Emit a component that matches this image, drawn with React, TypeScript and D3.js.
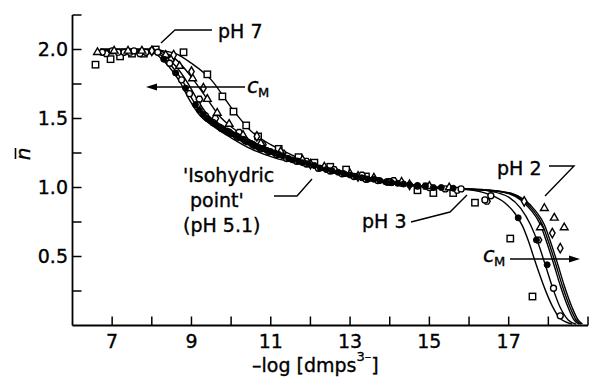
import React from "react";
import * as d3 from "d3";

// ---------- data ----------
const xTickValues = [7, 8, 9, 10, 11, 12, 13, 14, 15, 16, 17, 18, 19];
const xTickLabels = [7, 9, 11, 13, 15, 17];
const yTickValues = [0.25, 0.5, 0.75, 1.0, 1.25, 1.5, 1.75, 2.0, 2.25];
const yTickLabels = ["0.5", "1.0", "1.5", "2.0"];

const curve1: [number, number][] = [[6.7,2.0],[7.5,2.0],[8.0,2.0],[8.3,1.99],[8.6,1.97],[9.0,1.9],[9.5,1.78],[10.0,1.58],[10.5,1.41],[11.0,1.31],[11.5,1.24],[12.0,1.175],[12.5,1.125],[13.0,1.085],[13.5,1.055],[14.0,1.035],[14.5,1.02],[15.0,1.005],[15.5,0.995],[16.0,0.985],[16.5,0.95],[16.9,0.89],[17.15,0.815],[17.35,0.72],[17.5,0.61],[17.66,0.47],[17.92,0.26],[18.1,0.14],[18.3,0.05],[18.6,0.01]];
const curve2: [number, number][] = [[6.7,2.0],[8.0,2.0],[8.3,1.98],[8.6,1.93],[9.0,1.8],[9.4,1.64],[9.7,1.52],[10.0,1.44],[10.5,1.34],[11.0,1.27],[11.5,1.21],[12.0,1.165],[12.5,1.12],[13.0,1.085],[13.5,1.055],[14.0,1.035],[14.5,1.02],[15.0,1.005],[15.5,0.995],[16.0,0.99],[16.5,0.975],[17.0,0.93],[17.3,0.85],[17.55,0.73],[17.75,0.59],[17.9,0.46],[18.1,0.28],[18.3,0.13],[18.5,0.04],[18.7,0.01]];
const curve3: [number, number][] = [[6.7,2.0],[8.0,2.0],[8.3,1.96],[8.6,1.88],[8.9,1.76],[9.1,1.66],[9.4,1.53],[9.7,1.46],[10.2,1.38],[10.7,1.3],[11.2,1.235],[11.6,1.195],[12.0,1.16],[12.5,1.12],[13.0,1.085],[13.5,1.055],[14.0,1.035],[14.5,1.02],[15.0,1.005],[15.5,0.995],[16.0,0.99],[16.5,0.98],[17.0,0.955],[17.3,0.91],[17.55,0.84],[17.8,0.73],[17.95,0.61],[18.12,0.46],[18.3,0.29],[18.5,0.13],[18.65,0.04],[18.78,0.01]];
const curve4: [number, number][] = [[6.7,2.0],[7.95,2.0],[8.22,1.96],[8.5,1.88],[8.8,1.76],[9.0,1.65],[9.3,1.52],[9.6,1.45],[10.1,1.37],[10.6,1.29],[11.2,1.225],[11.6,1.19],[12.0,1.155],[12.5,1.115],[13.0,1.08],[13.5,1.05],[14.0,1.03],[14.5,1.015],[15.0,1.0],[15.5,0.99],[16.0,0.985],[16.5,0.98],[17.05,0.955],[17.35,0.91],[17.6,0.84],[17.85,0.73],[18.0,0.61],[18.17,0.46],[18.35,0.29],[18.55,0.13],[18.7,0.04],[18.82,0.01]];
const curve5: [number, number][] = [[6.7,2.0],[7.9,2.0],[8.14,1.96],[8.42,1.88],[8.72,1.76],[8.92,1.65],[9.22,1.52],[9.52,1.45],[10.0,1.36],[10.5,1.28],[11.1,1.215],[11.6,1.18],[12.0,1.15],[12.5,1.11],[13.0,1.08],[13.5,1.05],[14.0,1.03],[14.5,1.015],[15.0,1.0],[15.5,0.99],[16.0,0.985],[16.5,0.98],[17.1,0.955],[17.4,0.91],[17.65,0.84],[17.9,0.73],[18.05,0.61],[18.22,0.46],[18.4,0.29],[18.6,0.13],[18.75,0.04],[18.86,0.01]];

const squarePts: [number, number][] = [[6.58,1.89],[6.96,1.93],[7.2,1.95],[7.5,1.97],[7.8,1.97],[8.1,2.0],[8.8,1.98],[9.4,1.82],[9.78,1.66],[10.06,1.55],[10.38,1.45],[10.68,1.37],[11.2,1.28],[11.7,1.22],[12.1,1.18],[12.5,1.15],[12.9,1.13],[13.4,1.08],[14.0,1.04],[14.7,0.98],[15.1,0.96],[15.6,0.96],[16.15,0.89],[17.04,0.63],[17.6,0.21]];
const trianglePts: [number, number][] = [[6.63,1.98],[7.05,1.99],[7.4,1.99],[7.75,1.99],[8.35,1.96],[8.7,1.88],[9.03,1.79],[9.4,1.64],[9.65,1.54],[9.95,1.46],[10.3,1.38],[10.75,1.32],[11.25,1.26],[11.8,1.2],[12.35,1.15],[13.0,1.1],[13.6,1.07],[14.3,1.04],[15.0,1.01],[15.5,1.0],[17.9,0.85],[18.15,0.78],[18.4,0.71],[17.8,0.71]];
const diamondPts: [number, number][] = [[8.0,1.99],[8.55,1.96],[9.0,1.84],[9.3,1.72],[10.65,1.37],[12.0,1.17],[13.2,1.08],[14.5,1.02],[17.39,0.9],[18.1,0.67],[18.3,0.56]];
const circlePts: [number, number][] = [[6.75,1.98],[7.0,1.99],[7.3,1.98],[7.55,1.99],[7.85,1.98],[8.15,1.98],[8.45,1.9],[8.75,1.78],[8.95,1.68],[9.15,1.6],[9.35,1.52],[9.55,1.47],[9.75,1.43],[9.95,1.4],[10.15,1.37],[10.35,1.34],[10.55,1.31],[10.75,1.28],[10.95,1.26],[11.15,1.24],[11.4,1.21],[11.65,1.19],[11.9,1.17],[12.2,1.14],[12.5,1.12],[12.8,1.1],[13.1,1.08],[13.4,1.06],[13.7,1.05],[14.0,1.04],[14.3,1.03],[14.7,1.01],[15.0,1.0],[15.4,0.99],[15.8,0.99],[16.4,0.91],[16.55,0.94],[18.13,0.27],[18.3,0.07]];
const filledPts: [number, number][] = [[8.3,1.93],[8.6,1.83],[8.85,1.72],[9.1,1.6],[9.2,1.56],[9.3,1.53],[9.4,1.5],[9.5,1.48],[9.6,1.46],[9.7,1.44],[9.8,1.42],[9.9,1.41],[10.0,1.39],[10.1,1.38],[10.2,1.36],[10.3,1.35],[10.4,1.33],[10.5,1.32],[10.6,1.3],[10.7,1.29],[10.8,1.28],[10.9,1.27],[11.0,1.26],[11.1,1.25],[11.2,1.24],[11.3,1.23],[11.45,1.21],[11.55,1.2],[11.7,1.19],[11.8,1.18],[11.95,1.17],[12.1,1.16],[12.25,1.14],[12.4,1.13],[12.55,1.12],[12.7,1.11],[12.85,1.1],[13.0,1.09],[13.15,1.08],[13.3,1.07],[13.45,1.06],[13.6,1.06],[13.75,1.05],[13.9,1.04],[14.05,1.035],[14.2,1.03],[14.35,1.025],[14.5,1.02],[14.7,1.015],[14.9,1.01],[15.1,1.0],[15.3,1.0],[15.6,0.995],[17.24,0.78],[17.7,0.62],[17.97,0.44]];
const hexagonPts: [number, number][] = [[6.85,1.97],[7.15,1.98],[7.45,1.98],[7.7,1.97],[8.0,1.99],[8.5,1.93],[9.2,1.64],[9.6,1.5],[10.2,1.4],[10.8,1.31],[11.3,1.25],[11.9,1.19],[12.6,1.13],[13.3,1.09],[14.1,1.05],[14.9,1.01],[15.7,0.98],[16.45,0.9],[17.75,0.62]];

// ---------- layout ----------
const W = 589;
const H = 378;
const x = d3.scaleLinear().domain([6, 19]).range([72.5, 588]);
const y = d3.scaleLinear().domain([0, 2.25]).range([325.5, 15]);
const FONT = "DejaVu Sans, Liberation Sans, Arial, sans-serif";

const line = d3
  .line<[number, number]>()
  .x((d) => x(d[0]))
  .y((d) => y(d[1]))
  .curve(d3.curveMonotoneX);

function hexPath(cx: number, cy: number, r: number) {
  const pts = d3.range(6).map((i) => {
    const a = (Math.PI / 3) * i;
    return [cx + r * Math.cos(a), cy + r * Math.sin(a)];
  });
  return "M" + pts.map((p) => p.join(",")).join("L") + "Z";
}

const TS = { stroke: "#000", strokeWidth: 0.35 };

export default function App() {
  const tri = d3.symbol(d3.symbolTriangle, 26)();
  const dia = d3.symbol(d3.symbolDiamond, 26)();
  const curves = [curve1, curve2, curve3, curve4, curve5];
  return (
    <svg
      width={W}
      height={H}
      style={{ position: "absolute", left: 0, top: 0, background: "#fff" }}
      fontFamily={FONT}
    >
      <rect width={W} height={H} fill="#fff" />
      {/* axes */}
      <line x1={x(6)} x2={x(6)} y1={y(2.25)} y2={y(0)} stroke="#000" strokeWidth={1.8} />
      <line x1={x(6)} x2={x(19)} y1={y(0)} y2={y(0)} stroke="#000" strokeWidth={1.8} />
      {yTickValues.map((v) => (
        <line key={"yt" + v} x1={x(6)} x2={x(6) + 9} y1={y(v)} y2={y(v)} stroke="#000" strokeWidth={1.5} />
      ))}
      {xTickValues.map((v) => (
        <line key={"xt" + v} x1={x(v)} x2={x(v)} y1={y(0)} y2={y(0) - 9} stroke="#000" strokeWidth={1.5} />
      ))}
      {yTickLabels.map((t) => (
        <text key={"yl" + t} x={68} y={y(+t)} dy="0.36em" textAnchor="end" fontSize={19} {...TS}>
          {t}
        </text>
      ))}
      {xTickLabels.map((v) => (
        <text key={"xl" + v} x={x(v)} y={348} textAnchor="middle" fontSize={19} {...TS}>
          {v}
        </text>
      ))}
      {/* axis titles */}
      <text x={252} y={372} fontSize={19} {...TS}>
        –log [dmps
        <tspan dy={-11} fontSize={13}>3–</tspan>
        <tspan dy={11}>]</tspan>
      </text>
      <g transform="translate(30,154) rotate(-90)">
        <text x={0} y={0} textAnchor="middle" fontSize={20} fontStyle="italic" {...TS}>n</text>
        <line x1={-5} x2={6} y1={-14.5} y2={-14.5} stroke="#000" strokeWidth={1.6} />
      </g>
      {/* curves */}
      {curves.map((c, i) => (
        <path key={"c" + i} d={line(c) || ""} fill="none" stroke="#000" strokeWidth={1.4} />
      ))}
      {/* markers */}
      {squarePts.map((d, i) => (
        <rect key={"s" + i} x={x(d[0]) - 3.2} y={y(d[1]) - 3.2} width={6.4} height={6.4} fill="#fff" stroke="#000" strokeWidth={1.4} />
      ))}
      {hexagonPts.map((d, i) => (
        <path key={"h" + i} d={hexPath(x(d[0]), y(d[1]), 3.3)} fill="#fff" stroke="#000" strokeWidth={1.4} />
      ))}
      {circlePts.map((d, i) => (
        <circle key={"o" + i} cx={x(d[0])} cy={y(d[1])} r={3} fill="#fff" stroke="#000" strokeWidth={1.4} />
      ))}
      {trianglePts.map((d, i) => (
        <path key={"t" + i} d={tri || ""} transform={`translate(${x(d[0])},${y(d[1])})`} fill="#fff" stroke="#000" strokeWidth={1.4} />
      ))}
      {diamondPts.map((d, i) => (
        <path key={"d" + i} d={dia || ""} transform={`translate(${x(d[0])},${y(d[1])})`} fill="#fff" stroke="#000" strokeWidth={1.4} />
      ))}
      {filledPts.map((d, i) => (
        <circle key={"f" + i} cx={x(d[0])} cy={y(d[1])} r={3} fill="#000" stroke="#000" strokeWidth={1} />
      ))}
      {/* annotations */}
      <polyline points="161,43 175,30 212,30" fill="none" stroke="#000" strokeWidth={1.4} />
      <text x={218} y={38} fontSize={19} {...TS}>pH 7</text>

      <line x1={155} x2={245} y1={87} y2={87} stroke="#000" strokeWidth={1.5} />
      <path d="M146,87 L157,83.5 L157,90.5 Z" fill="#000" />
      <text x={247} y={93} fontSize={21} fontStyle="italic" {...TS}>c</text>
      <text x={258} y={97} fontSize={13} {...TS}>M</text>

      <text fontSize={19} {...TS}>
        <tspan x={183} y={182}>'Isohydric</tspan>
        <tspan x={190} y={207}>point'</tspan>
        <tspan x={183} y={232}>(pH 5.1)</tspan>
      </text>
      <polyline points="274,196 297,196 312,179" fill="none" stroke="#000" strokeWidth={1.4} />

      <text x={362} y={228} fontSize={19} {...TS}>pH 3</text>
      <polyline points="411,222 450,212 467,195" fill="none" stroke="#000" strokeWidth={1.4} />

      <text x={497} y={175} fontSize={19} {...TS}>pH 2</text>
      <polyline points="549,166 574,166 545,196" fill="none" stroke="#000" strokeWidth={1.4} />

      <text x={483} y={262} fontSize={21} fontStyle="italic" {...TS}>c</text>
      <text x={494} y={266} fontSize={13} {...TS}>M</text>
      <line x1={510} x2={570} y1={259} y2={259} stroke="#000" strokeWidth={1.5} />
      <path d="M580,259 L569,255.5 L569,262.5 Z" fill="#000" />
    </svg>
  );
}
